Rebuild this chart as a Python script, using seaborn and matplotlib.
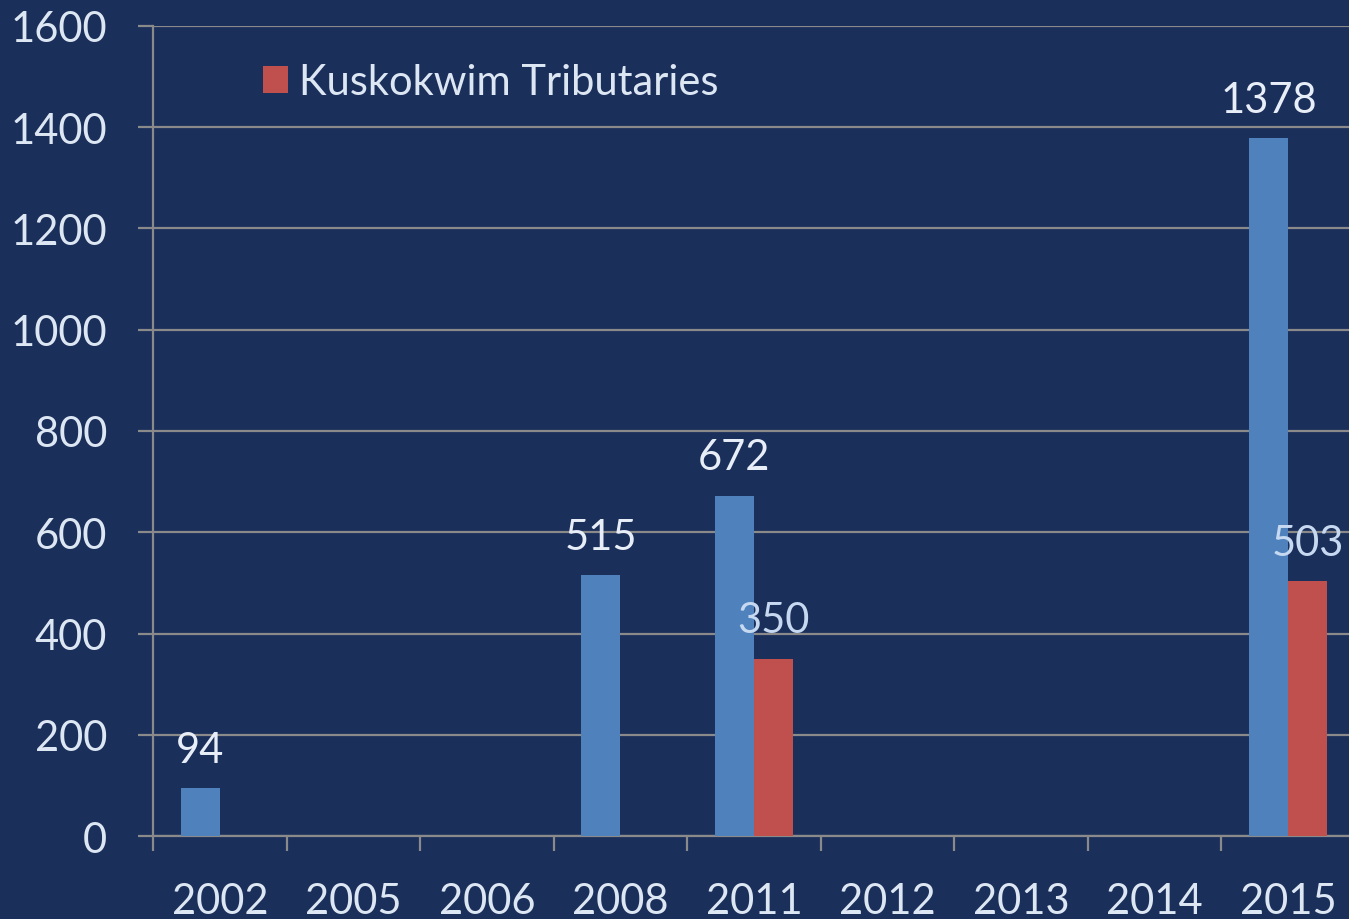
import pandas as pd
import numpy as np
import matplotlib
matplotlib.use("Agg")
import matplotlib.pyplot as plt
import seaborn as sns

# --- dados ---
anos = ["2002", "2005", "2006", "2008", "2011", "2012", "2013", "2014", "2015"]
mainstem = [94, np.nan, np.nan, 515, 672, np.nan, np.nan, np.nan, 1378]
tributaries = [np.nan, np.nan, np.nan, np.nan, 350, np.nan, np.nan, np.nan, 503]
series = ["Mainstem", "Kuskokwim Tributaries"]
y_ticks = [0, 200, 400, 600, 800, 1000, 1200, 1400, 1600]

bg = "#1b2f5b"
grid_col = "#8a8a8a"
txt_col = "#dde7f3"
cores = ["#4f81bd", "#c0504d"]

sns.set_theme(style="white")
plt.rcParams["font.family"] = ["Lato", "DejaVu Sans"]

df = pd.DataFrame({
    "ano": anos * 2,
    "valor": mainstem + tributaries,
    "serie": [series[0]] * len(anos) + [series[1]] * len(anos),
})

fig = plt.figure(figsize=(13.49, 9.2), dpi=100, facecolor=bg)
ax = fig.add_axes([0.1134, 0.0902, 0.891, 0.8805])
ax.set_facecolor(bg)

sns.barplot(data=df, x="ano", y="valor", hue="serie", order=anos, hue_order=series,
            palette=cores, width=0.585, saturation=1, ax=ax, errorbar=None,
            linewidth=0, edgecolor="none", zorder=3)

# rótulos de valor
label_cols = ["#e8eef8", "#c6d9f1"]
for cont, c in zip(ax.containers, label_cols):
    vals = [("" if np.isnan(v) else f"{int(v)}") for v in cont.datavalues]
    ax.bar_label(cont, labels=vals, padding=14, color=c, fontsize=30)

ax.set_xlim(-0.5, len(anos) - 0.5)
ax.set_ylim(0, 1600)
ax.set_yticks(y_ticks)
ax.set_yticklabels([str(v) for v in y_ticks])
ax.yaxis.grid(True, color=grid_col, linewidth=1.6, zorder=0)
ax.xaxis.grid(False)

# ticks do eixo x nas fronteiras, rótulos no centro
ax.set_xticks(range(len(anos)))
ax.set_xticklabels(anos)
ax.set_xticks(np.arange(-0.5, len(anos), 1.0), minor=True)
ax.tick_params(axis="x", which="major", length=0, pad=33, labelsize=30, labelcolor=txt_col)
ax.tick_params(axis="x", which="minor", bottom=True, length=11, width=1.6,
               color=grid_col, direction="out")
ax.tick_params(axis="y", length=11, width=1.6, color=grid_col, direction="out",
               pad=22, labelsize=30, labelcolor=txt_col, left=True)
ax.set_xlabel("")
ax.set_ylabel("")

for s in ["top", "right"]:
    ax.spines[s].set_visible(False)
for s in ["left", "bottom"]:
    ax.spines[s].set_color(grid_col)
    ax.spines[s].set_linewidth(1.6)

# legenda só com a série vermelha
handles, labels = ax.get_legend_handles_labels()
leg = ax.legend([handles[1]], [labels[1]], loc="upper left", bbox_to_anchor=(0.06, 1.0),
                frameon=False, fontsize=30, labelcolor=txt_col, handlelength=0.62,
                handleheight=0.62, handletextpad=0.25)
for h in leg.legend_handles:
    h.set_edgecolor("none")

fig.savefig("out.png", dpi=100, facecolor=bg)
